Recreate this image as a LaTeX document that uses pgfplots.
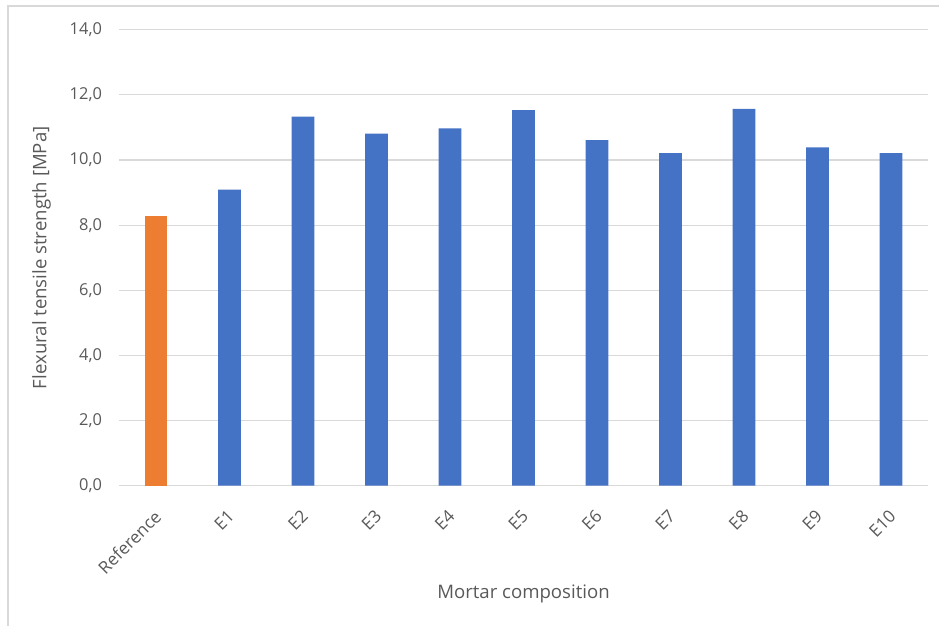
\documentclass[border=0pt]{standalone}
\usepackage{fontspec}
\setmainfont{Open Sans}
\usepackage{pgfplots}
\pgfplotsset{compat=1.18}
\definecolor{txt}{HTML}{595959}
\definecolor{gridc}{HTML}{D9D9D9}
\definecolor{bblue}{HTML}{4472C4}
\definecolor{borange}{HTML}{ED7D31}
\begin{document}
\begin{tikzpicture}
\useasboundingbox (-59.65pt,-70.15pt) rectangle (409.85pt,242.85pt);
\draw[gridc, line width=0.6pt] (-55.65pt,-70.15pt) -- (-55.65pt,239.85pt) -- (409.85pt,239.85pt);
\begin{axis}[
  at={(0pt,0pt)}, anchor=south west,
  scale only axis, width=404.2pt, height=228pt,
  xmin=-0.5, xmax=10.5, ymin=0, ymax=14,
  ytick={0,2,...,14},
  xtick={0,...,10},
  xticklabels={Reference,E1,E2,E3,E4,E5,E6,E7,E8,E9,E10},
  ymajorgrids, grid style={gridc, line width=0.6pt},
  axis line style={draw=none},
  major tick length=0pt, tick style={draw=none},
  /pgf/number format/.cd, fixed, fixed zerofill, precision=1, use comma, assume math mode=true,
  /pgfplots/.cd,
  yticklabel style={font=\fontsize{8.2}{9}\selectfont, text=txt, inner sep=0pt, anchor=east, xshift=-8.5pt},
  xticklabel style={font=\fontsize{8.6}{9}\selectfont, text=txt, inner sep=0pt, rotate=45, anchor=north east, yshift=-7pt, xshift=-9pt},
  xlabel={Mortar composition},
  ylabel={Flexural tensile strength [MPa]},
  every axis x label/.style={at={(rel axis cs:0.5,0)}, yshift=-56.65pt, anchor=base, font=\fontsize{9.3}{11}\selectfont, text=txt},
  every axis y label/.style={at={(rel axis cs:0,0.5)}, xshift=-36.4pt, rotate=90, anchor=base, font=\fontsize{9.3}{11}\selectfont, text=txt},
  ybar, bar width=11.35pt, bar shift=0pt,
]
\addplot[fill=borange, draw=none] coordinates {(0,8.29)};
\addplot[fill=bblue, draw=none] coordinates {(1,9.09) (2,11.33) (3,10.81) (4,10.97) (5,11.53) (6,10.61) (7,10.21) (8,11.57) (9,10.39) (10,10.21)};
\end{axis}
\end{tikzpicture}
\end{document}
